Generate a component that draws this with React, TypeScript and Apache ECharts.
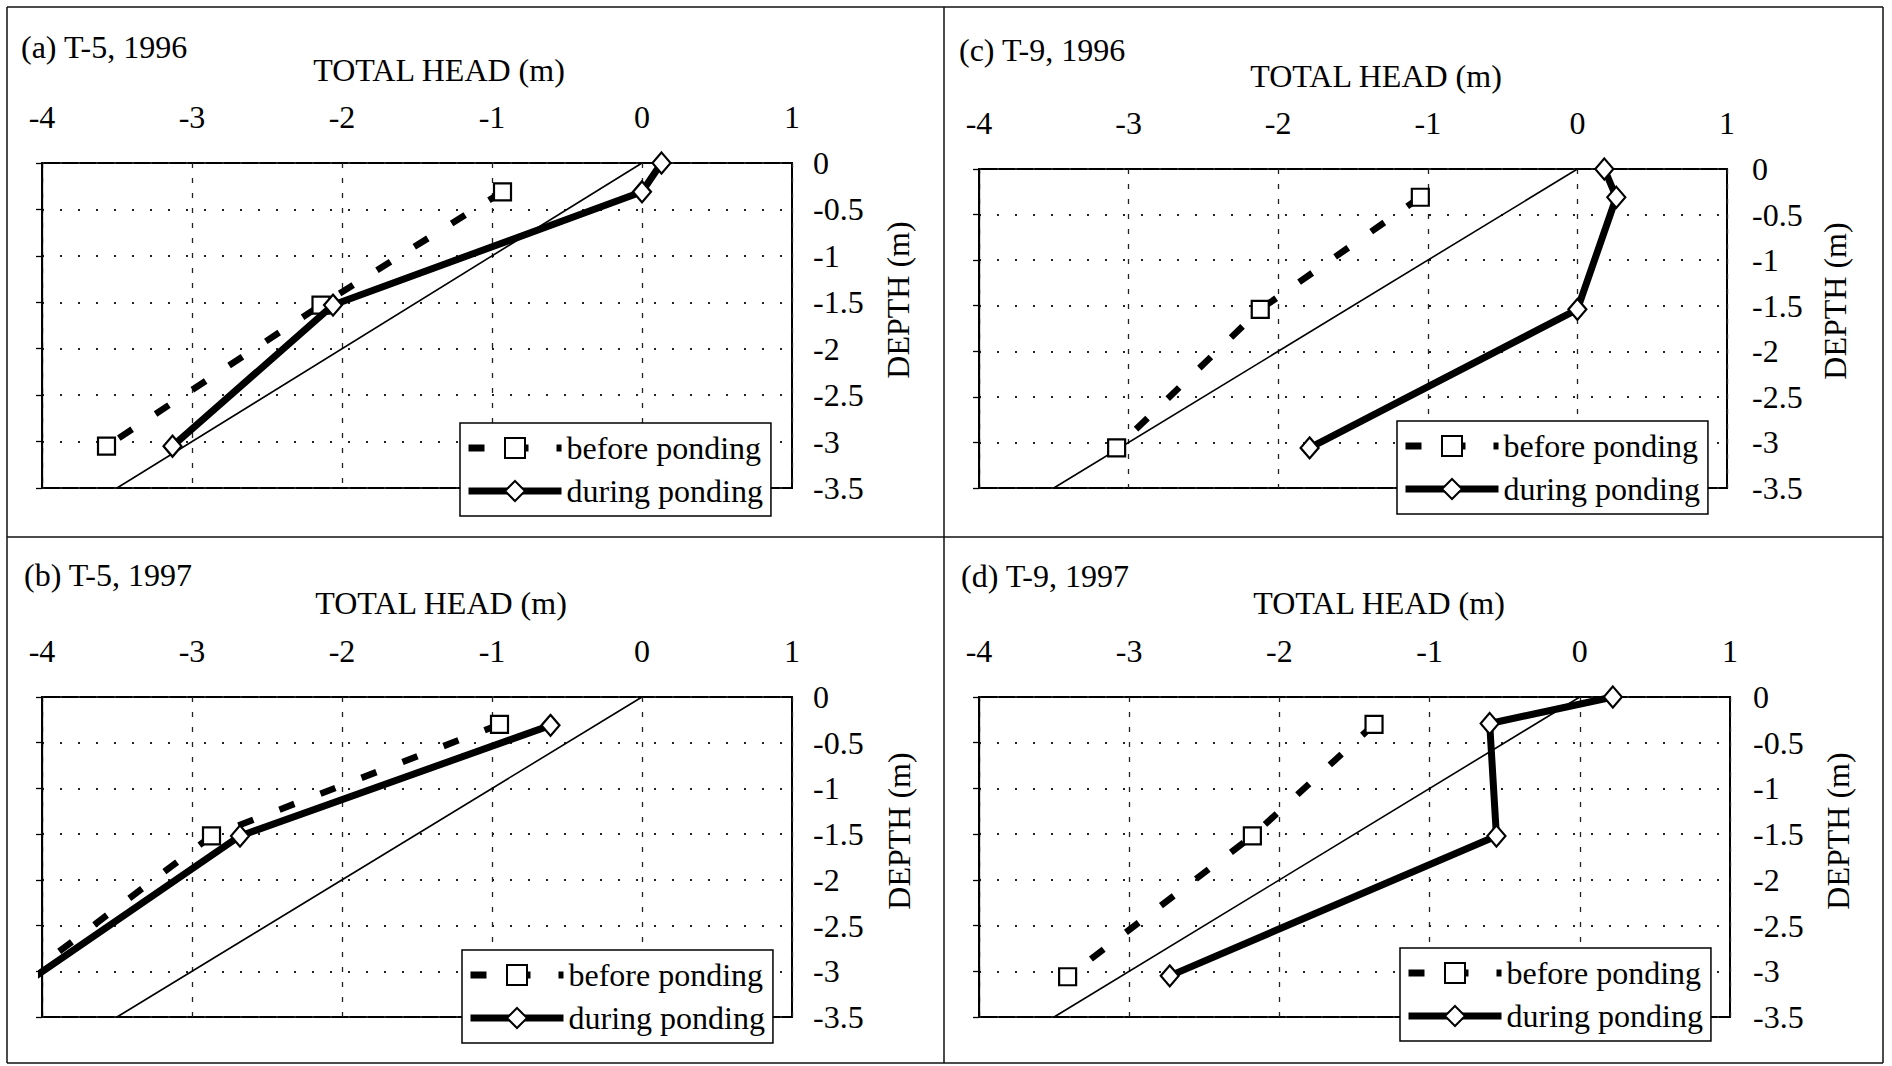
import React, { useEffect, useRef } from "react";
import * as echarts from "echarts";

// ---------- data ----------
const xTicks = ["-4", "-3", "-2", "-1", "0", "1"];
const yTicks = ["0", "-0.5", "-1", "-1.5", "-2", "-2.5", "-3", "-3.5"];

const panelLabels = ["(a) T-5, 1996", "(b) T-5, 1997", "(c) T-9, 1996", "(d) T-9, 1997"];
const seriesNames = ["before ponding", "during ponding"];

// hydrostatic reference line (total head = elevation)
const hydroHead = [0, -3.5];
const hydroDepth = [0, -3.5];

// (a) T-5, 1996
const aBeforeHead = [-0.93, -2.14, -3.57];
const aBeforeDepth = [-0.31, -1.53, -3.05];
const aDuringHead = [0.13, 0.0, -2.06, -3.13];
const aDuringDepth = [0, -0.31, -1.53, -3.05];

// (b) T-5, 1997
const bBeforeHead = [-0.95, -2.87, -4.1];
const bBeforeDepth = [-0.3, -1.52, -3.05];
const bDuringHead = [-0.61, -2.68, -4.04];
const bDuringDepth = [-0.31, -1.52, -3.05];

// (c) T-9, 1996
const cBeforeHead = [-1.05, -2.12, -3.08];
const cBeforeDepth = [-0.31, -1.54, -3.06];
const cDuringHead = [0.18, 0.26, 0.0, -1.79];
const cDuringDepth = [0, -0.31, -1.54, -3.06];

// (d) T-9, 1997
const dBeforeHead = [-1.37, -2.18, -3.41];
const dBeforeDepth = [-0.3, -1.52, -3.06];
const dDuringHead = [0.22, -0.6, -0.555, -2.73];
const dDuringDepth = [0, -0.29, -1.52, -3.05];

const zip = (xs: number[], ys: number[]) => xs.map((x, i) => [x, ys[i]]);

const FONT = '"Liberation Serif", "Times New Roman", serif';

type Panel = {
  label: string;
  before: number[][];
  during: number[][];
  grid: { left: number; top: number; width: number; height: number };
  labelPos: [number, number];
  headPos: [number, number];
  depthPos: [number, number];
  legendPos: [number, number];
  yMargin: number;
};

const panels: Panel[] = [
  {
    label: panelLabels[0],
    before: zip(aBeforeHead, aBeforeDepth),
    during: zip(aDuringHead, aDuringDepth),
    grid: { left: 42, top: 163, width: 750, height: 325 },
    labelPos: [21, 47],
    headPos: [439, 70],
    depthPos: [898, 300],
    legendPos: [460, 423],
    yMargin: 21,
  },
  {
    label: panelLabels[1],
    before: zip(bBeforeHead, bBeforeDepth),
    during: zip(bDuringHead, bDuringDepth),
    grid: { left: 42, top: 697, width: 750, height: 320 },
    labelPos: [24, 575],
    headPos: [441, 603],
    depthPos: [899, 831],
    legendPos: [462, 950],
    yMargin: 21,
  },
  {
    label: panelLabels[2],
    before: zip(cBeforeHead, cBeforeDepth),
    during: zip(cDuringHead, cDuringDepth),
    grid: { left: 979, top: 169, width: 748, height: 319 },
    labelPos: [959, 50],
    headPos: [1376, 76],
    depthPos: [1835, 301],
    legendPos: [1397, 421],
    yMargin: 25,
  },
  {
    label: panelLabels[3],
    before: zip(dBeforeHead, dBeforeDepth),
    during: zip(dDuringHead, dDuringDepth),
    grid: { left: 979, top: 697, width: 751, height: 320 },
    labelPos: [961, 576],
    headPos: [1379, 603],
    depthPos: [1838, 831],
    legendPos: [1400, 948],
    yMargin: 23,
  },
];

function buildOption() {
  const grid: any[] = [];
  const xAxis: any[] = [];
  const yAxis: any[] = [];
  const series: any[] = [];
  const legend: any[] = [];
  const graphic: any[] = [];

  panels.forEach((p, i) => {
    grid.push({
      left: p.grid.left,
      top: p.grid.top,
      width: p.grid.width,
      height: p.grid.height,
      show: true,
      borderColor: "#000",
      borderWidth: 2,
      backgroundColor: "transparent",
    });
    xAxis.push({
      type: "value",
      gridIndex: i,
      position: "top",
      min: -4,
      max: 1,
      interval: 1,
      axisLine: { show: false },
      axisTick: { show: false },
      axisLabel: {
        show: true,
        margin: 30,
        fontFamily: FONT,
        fontSize: 32,
        color: "#000",
        formatter: (v: number) => xTicks[Math.round(v) + 4] ?? String(v),
      },
      splitLine: {
        show: true,
        lineStyle: { color: "#222", width: 1.3, type: [5, 10] },
      },
    });
    // depth labels on the right
    yAxis.push({
      type: "value",
      gridIndex: i,
      position: "right",
      min: -3.5,
      max: 0,
      interval: 0.5,
      axisLine: { show: false },
      axisTick: { show: false },
      axisLabel: {
        show: true,
        margin: p.yMargin,
        align: "left",
        fontFamily: FONT,
        fontSize: 32,
        color: "#000",
        formatter: (v: number) => yTicks[Math.round(-v * 2)] ?? String(v),
      },
      splitLine: {
        show: true,
        lineStyle: { color: "#222", width: 2, type: [2, 16] },
      },
    });
    // value axis crossing at head = 0
    yAxis.push({
      type: "value",
      gridIndex: i,
      position: "left",
      min: -3.5,
      max: 0,
      interval: 0.5,
      axisLine: { show: true, onZero: true, lineStyle: { color: "#000", width: 1.3 } },
      axisTick: { show: true, length: 6, lineStyle: { color: "#000", width: 1.3 } },
      axisLabel: { show: false },
      splitLine: { show: false },
    });
    const yIdx = i * 2;
    series.push({
      name: "hydrostatic",
      type: "line",
      xAxisIndex: i,
      yAxisIndex: yIdx,
      data: zip(hydroHead, hydroDepth),
      symbol: "none",
      lineStyle: { color: "#000", width: 1.6 },
      z: 2,
    });
    series.push({
      name: seriesNames[0],
      type: "line",
      xAxisIndex: i,
      yAxisIndex: yIdx,
      data: p.before,
      symbol: "rect",
      symbolSize: 17,
      lineStyle: { color: "#000", width: 6.5, type: [16, 28] },
      itemStyle: { color: "#fff", borderColor: "#000", borderWidth: 2.2 },
      z: 3,
    });
    series.push({
      name: seriesNames[1],
      type: "line",
      xAxisIndex: i,
      yAxisIndex: yIdx,
      data: p.during,
      symbol: "diamond",
      symbolSize: [18, 21],
      lineStyle: { color: "#000", width: 7 },
      itemStyle: { color: "#fff", borderColor: "#000", borderWidth: 2.2 },
      z: 4,
    });
    legend.push({
      data: seriesNames,
      orient: "vertical",
      left: p.legendPos[0],
      top: p.legendPos[1],
      padding: [9, 8, 9, 5],
      itemWidth: 93,
      itemHeight: 25,
      itemGap: 11,
      selectedMode: false,
      backgroundColor: "#fff",
      borderColor: "#000",
      borderWidth: 1.5,
      lineStyle: { width: 7 },
      textStyle: { fontFamily: FONT, fontSize: 32, color: "#000" },
      z: 10,
    });
    graphic.push({
      type: "text",
      x: p.labelPos[0],
      y: p.labelPos[1],
      style: {
        text: p.label,
        fontFamily: FONT,
        fontSize: 32,
        fill: "#000",
        textAlign: "left",
        textVerticalAlign: "middle",
        align: "left",
        verticalAlign: "middle",
      },
    });
    graphic.push({
      type: "text",
      x: p.headPos[0],
      y: p.headPos[1],
      style: {
        text: "TOTAL HEAD (m)",
        fontFamily: FONT,
        fontSize: 32,
        fill: "#000",
        textAlign: "center",
        textVerticalAlign: "middle",
        align: "center",
        verticalAlign: "middle",
      },
    });
    graphic.push({
      type: "text",
      x: p.depthPos[0],
      y: p.depthPos[1],
      rotation: Math.PI / 2,
      style: {
        text: "DEPTH (m)",
        fontFamily: FONT,
        fontSize: 32,
        fill: "#000",
        textAlign: "center",
        textVerticalAlign: "middle",
        align: "center",
        verticalAlign: "middle",
      },
    });
  });

  // panel frame lines
  const frame = [
    [7, 7, 1883, 7],
    [7, 1063, 1883, 1063],
    [7, 7, 7, 1063],
    [1883, 7, 1883, 1063],
    [944, 7, 944, 1063],
    [7, 537, 1883, 537],
  ];
  frame.forEach(([x1, y1, x2, y2]) => {
    graphic.push({
      type: "line",
      shape: { x1, y1, x2, y2 },
      style: { stroke: "#111", lineWidth: 1.5 },
      silent: true,
    });
  });

  return {
    animation: false,
    backgroundColor: "#fff",
    grid,
    xAxis,
    yAxis,
    series,
    legend,
    graphic,
  };
}

export default function App() {
  const ref = useRef<HTMLDivElement>(null);
  useEffect(() => {
    if (!ref.current) return;
    const chart = echarts.init(ref.current, undefined, { renderer: "svg" });
    chart.setOption(buildOption() as any);
    return () => chart.dispose();
  }, []);
  return (
    <div
      ref={ref}
      style={{ position: "absolute", left: 0, top: 0, width: 1892, height: 1066, background: "#fff" }}
    />
  );
}
